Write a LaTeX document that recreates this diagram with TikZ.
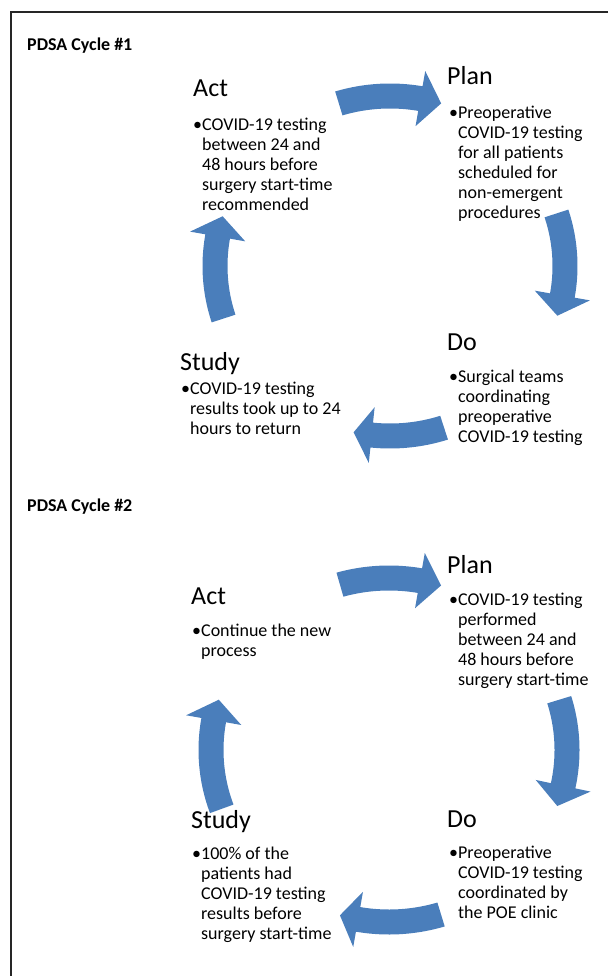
\documentclass[tikz,border=0pt]{standalone}
\usepackage{fontspec}
\setmainfont{Carlito}
\definecolor{arrowblue}{HTML}{4A7EBB}
\tikzset{
  cyctitle/.style={anchor=base west, inner sep=0pt, font=\bfseries\fontsize{18}{21}\selectfont},
  cychead/.style={anchor=base west, inner sep=0pt, font=\fontsize{26}{30}\selectfont},
  cycbody/.style={anchor=north west, inner sep=0pt, align=left, font=\fontsize{18}{20}\selectfont},
  frameline/.style={line width=1.4pt, draw=black!85},
}
\newcommand\ind{\phantom{•}}
% center x, center y, Rx, Ry, tail angle, neck angle, tip angle
\newcommand\cycarrow[7]{%
  \fill[arrowblue]
    plot[domain=#5:#6, samples=30] ({#1+(#3+12.5)*cos(\x)},{#2-(#4+12.5)*sin(\x)})
    -- ({#1+(#3+28)*cos(#6)},{#2-(#4+28)*sin(#6)})
    -- ({#1+#3*cos(#7)},{#2-#4*sin(#7)})
    -- ({#1+(#3-28)*cos(#6)},{#2-(#4-28)*sin(#6)})
    -- plot[domain=#6:#5, samples=30] ({#1+(#3-12.5)*cos(\x)},{#2-(#4-12.5)*sin(\x)})
    -- cycle;}
\begin{document}
\begin{tikzpicture}[x=1pt,y=-1pt]
\useasboundingbox (0,0) rectangle (608,976);
\coordinate (fTL) at (11,12);
\coordinate (fTR) at (608,12);
\coordinate (fBL) at (11,976);
\draw[frameline] (fTR) -- (fTL) -- (fBL);

% ---------------- Cycle 1 ----------------
\node[cyctitle] (t1) at (27,51) {PDSA Cycle \#1};
\coordinate (c1) at (390,266);
\cycarrow{390}{266}{175}{170}{107}{80}{73}
\cycarrow{390}{266}{175}{170}{18}{-10}{-17}
\cycarrow{390}{266}{175}{170}{-72}{-96}{-102}
\cycarrow{390}{266}{175}{170}{198}{170}{163}

\node[cychead] (act1) at (193,97) {Act};
\node[cycbody] (act1b) at (193,116) {\strut•COVID-19 testing\\\ind between 24 and\\\ind 48 hours before\\\ind surgery start-time\\\ind recommended};

\node[cychead] (plan1) at (447,85) {Plan};
\node[cycbody] (plan1b) at (449,104) {\strut•Preoperative\\\ind COVID-19 testing\\\ind for all patients\\\ind scheduled for\\\ind non-emergent\\\ind procedures};

\node[cychead] (do1) at (447,350) {Do};
\node[cycbody] (do1b) at (449,368) {\strut•Surgical teams\\\ind coordinating\\\ind preoperative\\\ind COVID-19 testing};

\node[cychead] (study1) at (180,370) {Study};
\node[cycbody] (study1b) at (181,380) {\strut•COVID-19 testing\\\ind results took up to 24\\\ind hours to return};

% ---------------- Cycle 2 ----------------
\node[cyctitle] (t2) at (27,511) {PDSA Cycle \#2};
\coordinate (c2) at (389,750);
\cycarrow{389}{750}{178}{172}{106}{80}{73}
\cycarrow{389}{750}{178}{172}{17}{-12}{-19}
\cycarrow{389}{750}{178}{172}{-73}{-100}{-106}
\cycarrow{389}{750}{178}{172}{200}{170}{163}

\node[cychead] (act2) at (191,604) {Act};
\node[cycbody] (act2b) at (192,622) {\strut•Continue the new\\\ind process};

\node[cychead] (plan2) at (447,573) {Plan};
\node[cycbody] (plan2b) at (449,591) {\strut•COVID-19 testing\\\ind performed\\\ind between 24 and\\\ind 48 hours before\\\ind surgery start-time};

\node[cychead] (do2) at (447,827) {Do};
\node[cycbody] (do2b) at (449,844) {\strut•Preoperative\\\ind COVID-19 testing\\\ind coordinated by\\\ind the POE clinic};

\node[cychead] (study2) at (191,828) {Study};
\node[cycbody] (study2b) at (192,845) {\strut•100\% of the\\\ind patients had\\\ind COVID-19 testing\\\ind results before\\\ind surgery start-time};
\end{tikzpicture}
\end{document}
